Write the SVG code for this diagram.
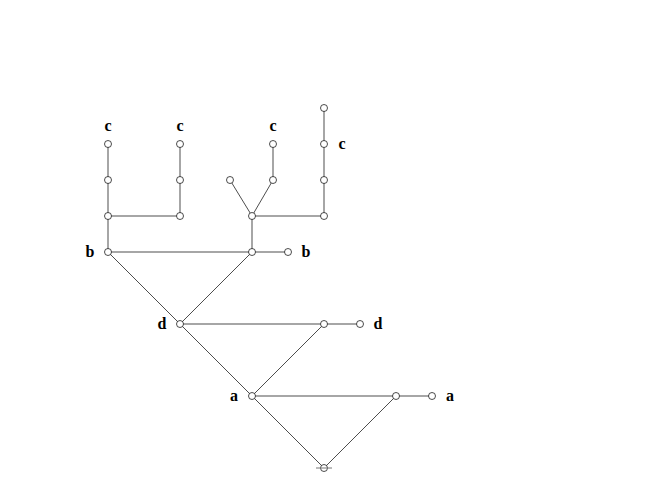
<svg xmlns="http://www.w3.org/2000/svg" width="648" height="504" viewBox="0 0 648 504">
<style>
.e{stroke:#000;stroke-width:0.7;fill:none}
.n{fill:#fff;stroke:#000;stroke-width:0.7}
.t{font-weight:bold;font-size:16px;fill:#000;text-anchor:middle}
</style>
<rect width="648" height="504" fill="#fff"/>
<g id="connectors">
<line class="e" x1="108" y1="252" x2="252" y2="252"/>
<line class="e" x1="252" y1="252" x2="288" y2="252"/>
<line class="e" x1="108" y1="252" x2="180" y2="324"/>
<line class="e" x1="252" y1="252" x2="180" y2="324"/>
<line class="e" x1="180" y1="324" x2="324" y2="324"/>
<line class="e" x1="324" y1="324" x2="360" y2="324"/>
<line class="e" x1="180" y1="324" x2="252" y2="396"/>
<line class="e" x1="324" y1="324" x2="252" y2="396"/>
<line class="e" x1="252" y1="396" x2="396" y2="396"/>
<line class="e" x1="396" y1="396" x2="432" y2="396"/>
<line class="e" x1="252" y1="396" x2="324" y2="468"/>
<line class="e" x1="396" y1="396" x2="324" y2="468"/>
<line class="e" x1="108" y1="252" x2="108" y2="144"/>
<line class="e" x1="108" y1="216" x2="180" y2="216"/>
<line class="e" x1="180" y1="216" x2="180" y2="144"/>
<line class="e" x1="252" y1="252" x2="252" y2="216"/>
<line class="e" x1="252" y1="216" x2="230" y2="180"/>
<line class="e" x1="252" y1="216" x2="273" y2="180"/>
<line class="e" x1="273" y1="180" x2="273" y2="144"/>
<line class="e" x1="252" y1="216" x2="324" y2="216"/>
<line class="e" x1="324" y1="216" x2="324" y2="108"/>
</g>
<g font-family="'Liberation Serif', 'DejaVu Serif', serif">
<g id="n_b1"><circle class="n" cx="108" cy="252" r="3.5"/><text class="t" x="90" y="257">b</text></g>
<g id="n_b2"><circle class="n" cx="252" cy="252" r="3.5"/></g>
<g id="n_b3"><circle class="n" cx="288" cy="252" r="3.5"/><text class="t" x="306" y="257">b</text></g>
<g id="n_d1"><circle class="n" cx="180" cy="324" r="3.5"/><text class="t" x="162" y="329">d</text></g>
<g id="n_d2"><circle class="n" cx="324" cy="324" r="3.5"/></g>
<g id="n_d3"><circle class="n" cx="360" cy="324" r="3.5"/><text class="t" x="378" y="329">d</text></g>
<g id="n_a1"><circle class="n" cx="252" cy="396" r="3.5"/><text class="t" x="234" y="401">a</text></g>
<g id="n_a2"><circle class="n" cx="396" cy="396" r="3.5"/></g>
<g id="n_a3"><circle class="n" cx="432" cy="396" r="3.5"/><text class="t" x="450" y="401">a</text></g>
<g id="n_root"><circle class="n" cx="324" cy="468" r="3.5"/><line stroke="#777" stroke-width="1" x1="316" y1="468" x2="332" y2="468"/></g>
<g id="n_l1"><circle class="n" cx="108" cy="216" r="3.5"/></g>
<g id="n_l2"><circle class="n" cx="108" cy="180" r="3.5"/></g>
<g id="n_l3"><circle class="n" cx="108" cy="144" r="3.5"/><text class="t" x="108" y="131">c</text></g>
<g id="n_m1"><circle class="n" cx="180" cy="216" r="3.5"/></g>
<g id="n_m2"><circle class="n" cx="180" cy="180" r="3.5"/></g>
<g id="n_m3"><circle class="n" cx="180" cy="144" r="3.5"/><text class="t" x="180" y="131">c</text></g>
<g id="n_r1"><circle class="n" cx="252" cy="216" r="3.5"/></g>
<g id="n_r2"><circle class="n" cx="230" cy="180" r="3.5"/></g>
<g id="n_r3"><circle class="n" cx="273" cy="180" r="3.5"/></g>
<g id="n_r4"><circle class="n" cx="273" cy="144" r="3.5"/><text class="t" x="273" y="131">c</text></g>
<g id="n_s1"><circle class="n" cx="324" cy="216" r="3.5"/></g>
<g id="n_s2"><circle class="n" cx="324" cy="180" r="3.5"/></g>
<g id="n_s3"><circle class="n" cx="324" cy="144" r="3.5"/><text class="t" x="342" y="149">c</text></g>
<g id="n_s4"><circle class="n" cx="324" cy="108" r="3.5"/></g>
</g>
</svg>
